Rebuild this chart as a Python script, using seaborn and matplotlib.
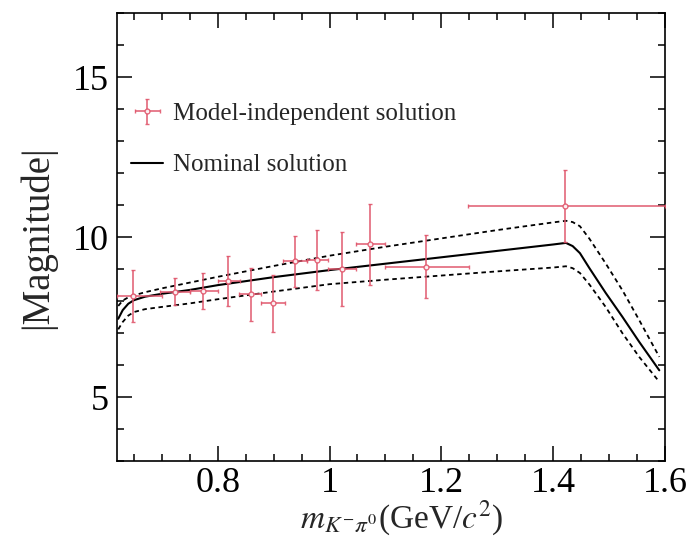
import numpy as np
import pandas as pd
import matplotlib
matplotlib.use("Agg")
import matplotlib.pyplot as plt
import seaborn as sns
from matplotlib.ticker import MultipleLocator

# Binned model-independent solution
bin_center = [0.648, 0.724, 0.774, 0.818, 0.859, 0.898, 0.938, 0.978, 1.023, 1.072, 1.173, 1.422]
bin_low = [0.620, 0.697, 0.750, 0.800, 0.838, 0.878, 0.916, 0.959, 0.997, 1.048, 1.099, 1.247]
bin_high = [0.700, 0.750, 0.800, 0.840, 0.878, 0.920, 0.959, 0.997, 1.048, 1.099, 1.249, 1.600]
magnitude = [8.16, 8.29, 8.32, 8.63, 8.21, 7.93, 9.25, 9.29, 9.00, 9.77, 9.08, 10.97]
magnitude_err = [0.80, 0.42, 0.57, 0.78, 0.82, 0.88, 0.80, 0.94, 1.15, 1.28, 0.98, 1.13]

# Nominal solution and its one-sigma band
mass = [0.622, 0.63, 0.64, 0.65, 0.67, 0.70, 0.75, 0.80, 0.90, 1.00, 1.10, 1.20, 1.30,
        1.40, 1.423, 1.435, 1.448, 1.465, 1.494, 1.524, 1.554, 1.59]
nominal = [7.45, 7.72, 7.92, 8.03, 8.14, 8.23, 8.35, 8.50, 8.75, 8.97, 9.17, 9.37, 9.57,
           9.77, 9.82, 9.72, 9.50, 9.03, 8.26, 7.51, 6.73, 5.84]
upper = [7.85, 8.02, 8.12, 8.18, 8.28, 8.40, 8.58, 8.76, 9.10, 9.42, 9.70, 9.96, 10.22,
         10.46, 10.51, 10.47, 10.34, 9.95, 9.18, 8.34, 7.41, 6.26]
lower = [7.12, 7.35, 7.55, 7.66, 7.75, 7.82, 7.93, 8.06, 8.30, 8.53, 8.67, 8.80, 8.93,
         9.05, 9.09, 9.03, 8.88, 8.52, 7.82, 7.00, 6.26, 5.48]

sns.set_theme(style="ticks")
plt.rcParams["font.family"] = ["Liberation Serif", "DejaVu Serif"]
plt.rcParams["mathtext.fontset"] = "stix"

RED = "#e0566c"

fig = plt.figure(figsize=(6.89, 5.42), dpi=100)
ax = fig.add_axes([0.170, 0.149, 0.795, 0.827])

curves = pd.DataFrame({"mass": mass, "nominal": nominal, "upper": upper, "lower": lower})
sns.lineplot(data=curves, x="mass", y="upper", ax=ax, color="black", lw=1.3,
             linestyle=(0, (2.5, 2.0)), sort=False)
sns.lineplot(data=curves, x="mass", y="lower", ax=ax, color="black", lw=1.3,
             linestyle=(0, (2.5, 2.0)), sort=False)
sns.lineplot(data=curves, x="mass", y="nominal", ax=ax, color="black", lw=1.5,
             sort=False, label="Nominal solution")

xc = np.array(bin_center)
xerr = [xc - np.array(bin_low), np.array(bin_high) - xc]
ax.errorbar(xc, magnitude, yerr=magnitude_err, xerr=xerr, fmt="o", ms=3.5,
            mfc="white", mec=RED, mew=1.0, color=RED, ecolor=RED, elinewidth=1.2,
            capsize=1.5, capthick=1.0, alpha=0.9, label="Model-independent solution",
            zorder=3)

ax.set_xlim(0.62, 1.6)
ax.set_ylim(3, 17)
ax.xaxis.set_minor_locator(MultipleLocator(0.05))
ax.yaxis.set_major_locator(MultipleLocator(5))
ax.yaxis.set_minor_locator(MultipleLocator(1))
ax.set_xticks([0.8, 1.0, 1.2, 1.4, 1.6])
ax.set_xticklabels(["0.8", "1", "1.2", "1.4", "1.6"])
ax.tick_params(which="both", direction="in", top=True, right=True, width=1.1,
               labelsize=26, colors="black")
ax.tick_params(which="major", length=11, pad=6)
ax.tick_params(axis="x", which="major", pad=4)
ax.tick_params(which="minor", length=5)
for s in ax.spines.values():
    s.set_linewidth(1.2)
    s.set_color("black")

ax.set_xlabel(r"$m_{K^{-}\pi^{0}}$(GeV/$c^{2}$)", fontsize=24)
ax.xaxis.set_label_coords(0.52, -0.083)
ax.set_ylabel("|Magnitude|", fontsize=28, labelpad=12)

handles, labels = ax.get_legend_handles_labels()
order = [labels.index("Model-independent solution"), labels.index("Nominal solution")]
ax.legend([handles[i] for i in order], [labels[i] for i in order], loc="upper left",
          bbox_to_anchor=(0.025, 0.80), borderaxespad=0, borderpad=0, frameon=False,
          fontsize=18, handlelength=1.3, handletextpad=0.4, labelspacing=1.15)

fig.savefig("out.png", dpi=100)
